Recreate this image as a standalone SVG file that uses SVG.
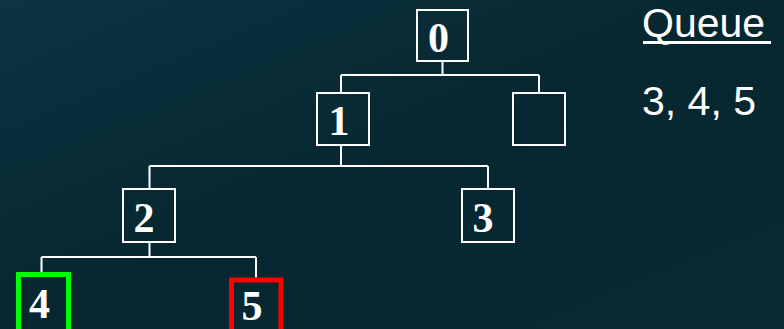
<svg xmlns="http://www.w3.org/2000/svg" width="784" height="329" viewBox="0 0 784 329">
  <defs>
    <linearGradient id="bg" x1="0" y1="0" x2="1" y2="1">
      <stop offset="0" stop-color="#0d3441"/>
      <stop offset="0.5" stop-color="#06272f"/>
      <stop offset="1" stop-color="#082a32"/>
    </linearGradient>
    <style>
      .box { fill: none; stroke: #ffffff; stroke-width: 2; }
      .lbl { font-family: "Liberation Serif", "Times New Roman", serif; font-weight: bold; font-size: 42px; fill: #ffffff; text-anchor: middle; }
      .edge { fill: none; stroke: #ffffff; stroke-width: 2; }
      .side { font-family: "Liberation Sans", Arial, sans-serif; font-size: 41px; fill: #ffffff; }
    </style>
  </defs>
  <rect x="0" y="0" width="784" height="329" fill="url(#bg)"/>

  <g id="connectors">
    <path class="edge" d="M442.5 61 V75 M341 75 H539 M341 75 V93 M539 75 V93"/>
    <path class="edge" d="M341 145 V166 M149.5 166 H488 M149.5 166 V188 M488 166 V188"/>
    <path class="edge" d="M149.5 242 V257 M41.5 257 H256 M41.5 257 V272 M256 257 V277.5"/>
  </g>

  <g id="node0">
    <rect class="box" x="417" y="10" width="51" height="51"/>
    <text class="lbl" x="438.5" y="52">0</text>
  </g>
  <g id="node1">
    <rect class="box" x="317" y="93" width="52" height="52"/>
    <text class="lbl" x="339" y="135">1</text>
  </g>
  <g id="nodeEmpty">
    <rect class="box" x="513" y="93" width="52" height="52"/>
  </g>
  <g id="node2">
    <rect class="box" x="123" y="189" width="52" height="53"/>
    <text class="lbl" x="144" y="232">2</text>
  </g>
  <g id="node3">
    <rect class="box" x="462" y="189" width="52" height="53"/>
    <text class="lbl" x="483" y="232">3</text>
  </g>
  <g id="node4">
    <rect x="18.5" y="274.5" width="50" height="60" fill="none" stroke="#00ff00" stroke-width="5"/>
    <text class="lbl" x="39.5" y="318">4</text>
  </g>
  <g id="node5">
    <rect x="231.5" y="280" width="49.5" height="60" fill="none" stroke="#ff0000" stroke-width="5"/>
    <text class="lbl" x="252" y="320">5</text>
  </g>

  <g id="queue">
    <text class="side" x="642" y="37">Queue</text>
    <rect x="643" y="41" width="128" height="3" fill="#ffffff"/>
    <text class="side" x="642" y="115">3, 4, 5</text>
  </g>
</svg>
